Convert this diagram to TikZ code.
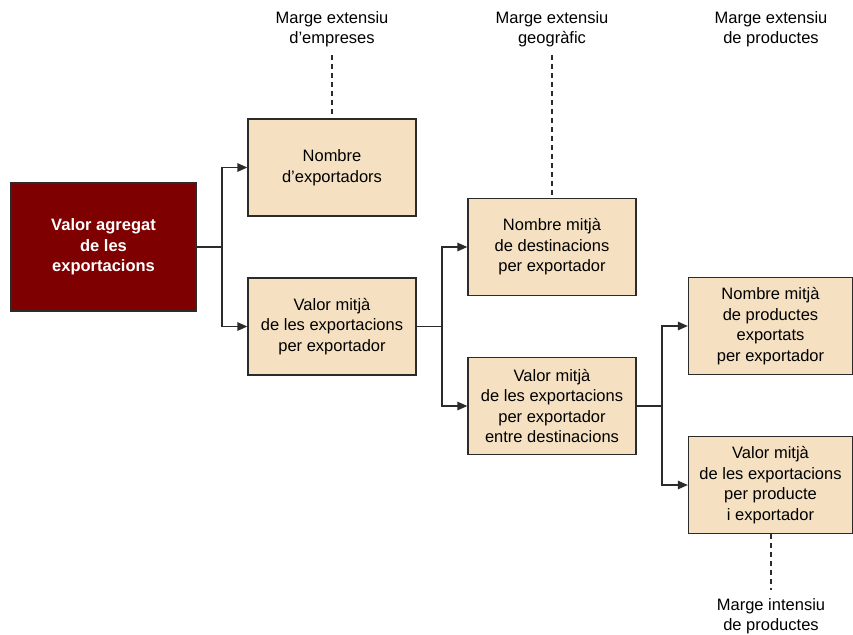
\documentclass[tikz,border=0pt]{standalone}
\usepackage{fontspec}
\setmainfont{Liberation Sans}
\usetikzlibrary{arrows.meta}
\definecolor{boxfill}{HTML}{F5E1C2}
\definecolor{rootfill}{HTML}{7F0000}
\definecolor{edge}{HTML}{2B2B2B}
\tikzset{
  box/.style={draw=edge, line width=1.3pt, fill=boxfill, minimum width=168pt, minimum height=97pt, align=center, inner sep=2pt, font=\fontsize{16.5}{20.5}\selectfont},
  rootbox/.style={draw=edge, line width=1.3pt, fill=rootfill, text=white, minimum width=185pt, minimum height=128pt, align=center, font=\fontsize{16.5}{20.5}\selectfont\bfseries},
  lbl/.style={align=center, font=\fontsize{16.5}{20.5}\selectfont, inner sep=0pt},
  conn/.style={draw=edge, line width=1.3pt, -{Triangle[length=10pt,width=8.5pt]}},
  link/.style={draw=edge, line width=1.3pt},
  dashline/.style={draw=edge, line width=1.3pt, dash pattern=on 5pt off 4pt}
}
\begin{document}
\begin{tikzpicture}[x=1pt,y=-1pt]
\useasboundingbox (0,0) rectangle (853,634);
\node[rootbox] (root) at (103.5,247) {Valor agregat\\de les\\exportacions};
\node[box] (a) at (332,167.5) {Nombre\\d’exportadors};
\node[box] (b) at (332,326.5) {Valor mitjà\\de les exportacions\\per exportador};
\node[box] (c) at (552,247) {Nombre mitjà\\de destinacions\\per exportador};
\node[box] (d) at (552,406) {Valor mitjà\\de les exportacions\\per exportador\\entre destinacions};
\node[box, minimum width=164pt] (e) at (770.5,326) {Nombre mitjà\\de productes\\exportats\\per exportador};
\node[box, minimum width=164pt] (f) at (770.5,485) {Valor mitjà\\de les exportacions\\per producte\\i exportador};

\node[lbl] (la) at (332,29) {Marge extensiu\\d’empreses};
\node[lbl] (lc) at (552,29) {Marge extensiu\\geogràfic};
\node[lbl] (le) at (771,29) {Marge extensiu\\de productes};
\node[lbl] (lf) at (771,616) {Marge intensiu\\de productes};

\coordinate (ja) at (222,247);
\coordinate (jb) at (442,326.5);
\coordinate (jd) at (662,406);

\draw[link] (root.east) -- (ja);
\draw[conn] (ja) |- (a.west);
\draw[conn] (ja) |- (b.west);
\draw[link] (b.east) -- (jb);
\draw[conn] (jb) |- (c.west);
\draw[conn] (jb) |- (d.west);
\draw[link] (d.east) -- (jd);
\draw[conn] (jd) |- (e.west);
\draw[conn] (jd) |- (f.west);

\coordinate (da) at (332,55);
\coordinate (dc) at (552,55);
\coordinate (df) at (771,590);
\draw[dashline] (da) -- (a.north);
\draw[dashline] (dc) -- (c.north);
\draw[dashline] (f.south -| df) -- (df);
\end{tikzpicture}
\end{document}
